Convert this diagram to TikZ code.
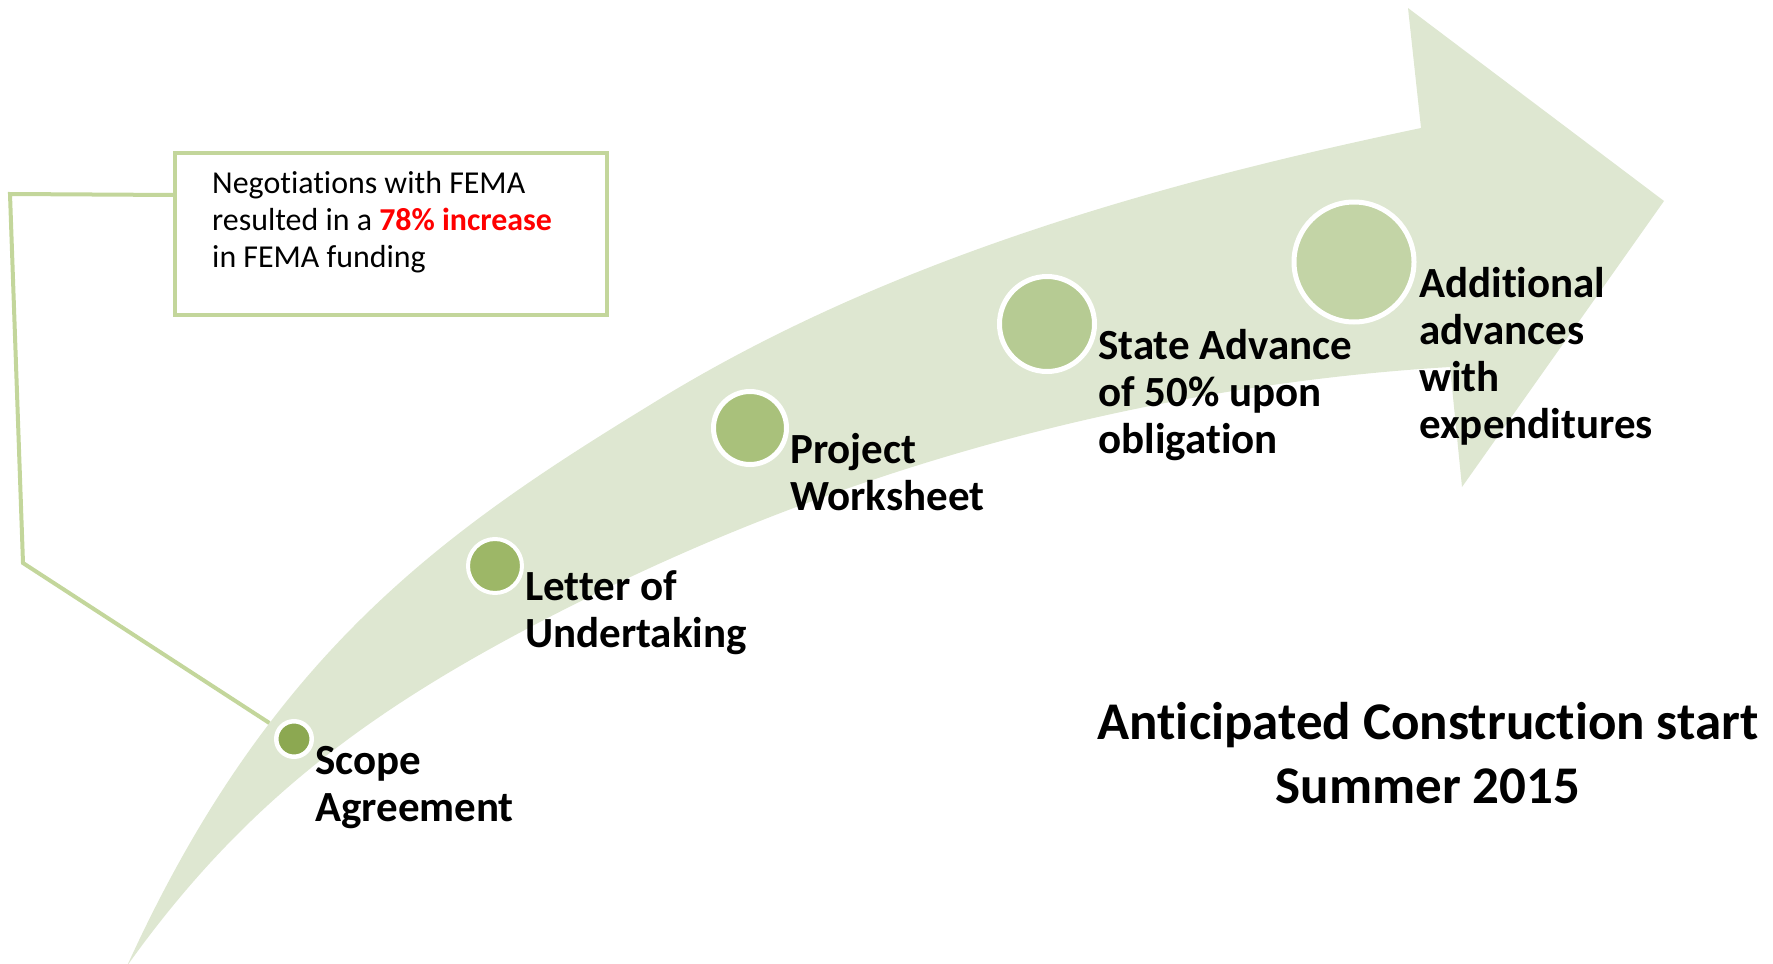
\documentclass[tikz,border=0pt]{standalone}
\usepackage{fontspec}
\setmainfont{Carlito}[Ligatures=NoCommon]
\definecolor{arrowgreen}{HTML}{DEE7D1}
\definecolor{boxgreen}{HTML}{C3D69B}
\definecolor{dotA}{HTML}{8CA851}
\definecolor{dotB}{HTML}{9DB767}
\definecolor{dotC}{HTML}{A9C17B}
\definecolor{dotD}{HTML}{B6CB93}
\definecolor{dotE}{HTML}{C3D4A6}
\definecolor{hot}{HTML}{FF0000}
\begin{document}
\begin{tikzpicture}[x=1pt,y=-1pt,
  dot/.style={circle, draw=white, inner sep=0pt},
  lab/.style={anchor=north west, inner sep=0pt, align=left, font=\fontsize{43}{47}\selectfont\bfseries},
  notetext/.style={anchor=north west, inner sep=0pt, align=left, font=\fontsize{31.9}{37}\selectfont},
  titletext/.style={anchor=north, inner sep=0pt, align=center, font=\fontsize{53}{64}\selectfont\bfseries},
  notebox/.style={draw=boxgreen, line width=4pt, fill=white, rectangle, inner sep=0pt, anchor=north west},
  calloutline/.style={draw=boxgreen, line width=4pt},
]
\useasboundingbox (0,0) rectangle (1773,964);
% curved arrow
\fill[arrowgreen] (127,966)
  .. controls (268.8,654.6) and (442,532) .. (650,405)
  .. controls (882,261) and (1154,184) .. (1421,128)
  -- (1408,8) -- (1664,201) -- (1462,487) -- (1450,367)
  .. controls (1150.6,385) and (851,466) .. (583,600)
  .. controls (391,696) and (253,789) .. (127,966)
  -- cycle;
% milestones
\node[dot, fill=dotA, line width=4.5pt, minimum size=35.5pt] (scope) at (294,739) {};
\node[dot, fill=dotB, line width=4pt, minimum size=54pt] (letter) at (495,566) {};
\node[dot, fill=dotC, line width=5pt, minimum size=73pt] (project) at (750,428) {};
\node[dot, fill=dotD, line width=5pt, minimum size=95pt] (state) at (1047,324) {};
\node[dot, fill=dotE, line width=5pt, minimum size=120pt] (additional) at (1354,262) {};
% callout
\coordinate (c0) at (175,195);
\coordinate (c1) at (10,194);
\coordinate (c2) at (23,563);
\draw[calloutline, shorten >=9.4pt] (c0) -- (c1) -- (c2) -- (scope);
\node[notebox, minimum width=432pt, minimum height=162pt] (box) at (173,151) {};
\node[notetext] (note) at (212,167.1) {\strut Negotiations with FEMA\\resulted in a \textcolor{hot}{\textbf{78\% increase}}\\in FEMA funding};
% labels
\node[lab] (lscope) at (315,741.1) {\strut Scope\\Agreement};
\node[lab] (lletter) at (525,567.1) {\strut Letter of\\Undertaking};
\node[lab] (lproject) at (790,430.1) {\strut Project\\Worksheet};
\node[lab] (lstate) at (1098,326.1) {\strut State Advance\\of 50\% upon\\obligation};
\node[lab] (ladd) at (1419,264.1) {\strut Additional\\advances\\with\\expenditures};
\node[titletext] (title) at (1428,694.2) {\strut Anticipated Construction start\\Summer 2015};
\end{tikzpicture}
\end{document}
